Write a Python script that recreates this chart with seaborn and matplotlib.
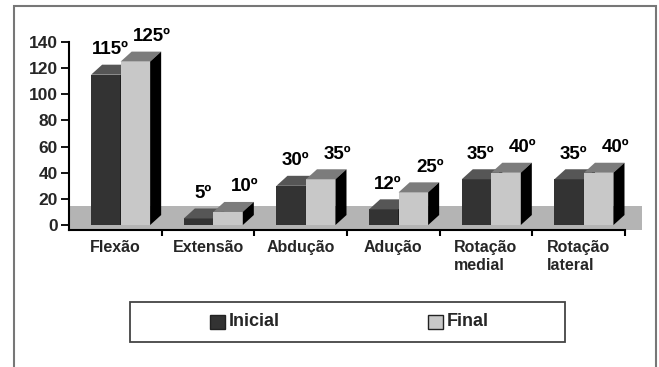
import matplotlib
matplotlib.use("Agg")
import matplotlib.pyplot as plt
from matplotlib.patches import Polygon, Rectangle
import seaborn as sns
import pandas as pd

# ---- data ----
categories = ["Flexão", "Extensão", "Abdução", "Adução", "Rotação\nmedial", "Rotação\nlateral"]
inicial = [115, 5, 30, 12, 35, 35]
final = [125, 10, 35, 25, 40, 40]
series = ["Inicial", "Final"]
yticks = [0, 20, 40, 60, 80, 100, 120, 140]

df = pd.DataFrame({
    "Movimento": categories * 2,
    "Graus": inicial + final,
    "Medida": [series[0]] * len(categories) + [series[1]] * len(categories),
})

sns.set_theme(style="white")
plt.rcParams["font.family"] = ["Liberation Sans", "DejaVu Sans"]
plt.rcParams["font.weight"] = "bold"

front_cols = {"Inicial": "#333333", "Final": "#c8c8c8"}
top_cols = {"Inicial": "#565656", "Final": "#7c7c7c"}
side_col = "#000000"

fig = plt.figure(figsize=(6.59, 3.67), dpi=100)
ax = fig.add_axes([69 / 659, 1 - 230 / 367, 556 / 659, 188 / 367])

sns.barplot(data=df, x="Movimento", y="Graus", hue="Medida", order=categories,
            hue_order=series, palette=[front_cols[s] for s in series],
            width=0.637, saturation=1, legend=False, ax=ax, edgecolor="none")

ax.set_xlim(-0.5, 5.5)
ax.set_ylim(-3.8, 140)

# 3D depth (data units)
dx, dy = 0.119, 7.65
shift = 0.057

# floor
ax.add_patch(Rectangle((-0.5, -3.8), 6.18, 18.3, facecolor="#b4b4b4",
                       edgecolor="none", zorder=0.5, clip_on=False))

patches = list(ax.patches)
bars = [p for p in patches if p.get_height() > 0 and p.get_width() < 1]
n = len(categories)
for k, p in enumerate(bars[: 2 * n]):
    s = series[0] if k < n else series[1]
    z = 2 if s == "Inicial" else 3
    p.set_x(p.get_x() + shift)
    p.set_zorder(z)
    x0, w, h = p.get_x(), p.get_width(), p.get_height()
    top = Polygon([(x0, h), (x0 + w, h), (x0 + w + dx, h + dy), (x0 + dx, h + dy)],
                  closed=True, facecolor=top_cols[s], edgecolor="none", zorder=z + 0.1)
    side = Polygon([(x0 + w, 0), (x0 + w, h), (x0 + w + dx, h + dy), (x0 + w + dx, dy)],
                   closed=True, facecolor=side_col, edgecolor="none", zorder=z + 0.1)
    ax.add_patch(top)
    ax.add_patch(side)
    off = (3, 12) if s == "Inicial" else (12, 12)
    ax.annotate(f"{int(h)}º", (x0 + w / 2, h), xytext=off, textcoords="offset points",
                ha="center", va="bottom", fontsize=13.5, fontweight="bold",
                color="black", zorder=5)

# axes styling
for sp in ["top", "right"]:
    ax.spines[sp].set_visible(False)
for sp in ["left", "bottom"]:
    ax.spines[sp].set_color("black")
    ax.spines[sp].set_linewidth(1.5)
    ax.spines[sp].set_zorder(4)

ax.set_yticks(yticks)
ax.set_yticklabels([str(v) for v in yticks], fontsize=12.5, fontweight="bold")
ax.tick_params(axis="y", direction="out", length=6, width=1.3, pad=2, left=True, color="black")

ax.set_xticks(range(n))
ax.set_xticklabels(categories, fontsize=11.5, fontweight="bold", multialignment="left",
                   linespacing=1.25)
ax.set_xticks([i + 0.5 for i in range(n)], minor=True)
ax.tick_params(axis="x", which="major", length=0, pad=7)
ax.tick_params(axis="x", which="minor", direction="out", length=4, width=1.5,
               bottom=True, color="black")
ax.set_xlabel("")
ax.set_ylabel("")
ax.grid(False)

# outer frame
W, H = 659, 367
fig.add_artist(Rectangle((14 / W, -0.05), (656 - 14) / W, 1.05 - 6 / H,
                         transform=fig.transFigure, fill=False, edgecolor="#777777",
                         linewidth=1.5))

# legend box
fig.add_artist(Rectangle((130 / W, 1 - 342 / H), 435 / W, 40 / H,
                         transform=fig.transFigure, fill=False, edgecolor="#444444",
                         linewidth=1.3))
leg_items = [(series[0], 210), (series[1], 428)]
for name, px in leg_items:
    fig.add_artist(Rectangle((px / W, 1 - 329 / H), 15 / W, 14 / H,
                             transform=fig.transFigure, facecolor=front_cols[name],
                             edgecolor="#222222", linewidth=1))
    fig.text((px + 19) / W, 1 - 322 / H, name, fontsize=13, fontweight="bold",
             va="center", ha="left")

fig.savefig("out.png", dpi=100)
